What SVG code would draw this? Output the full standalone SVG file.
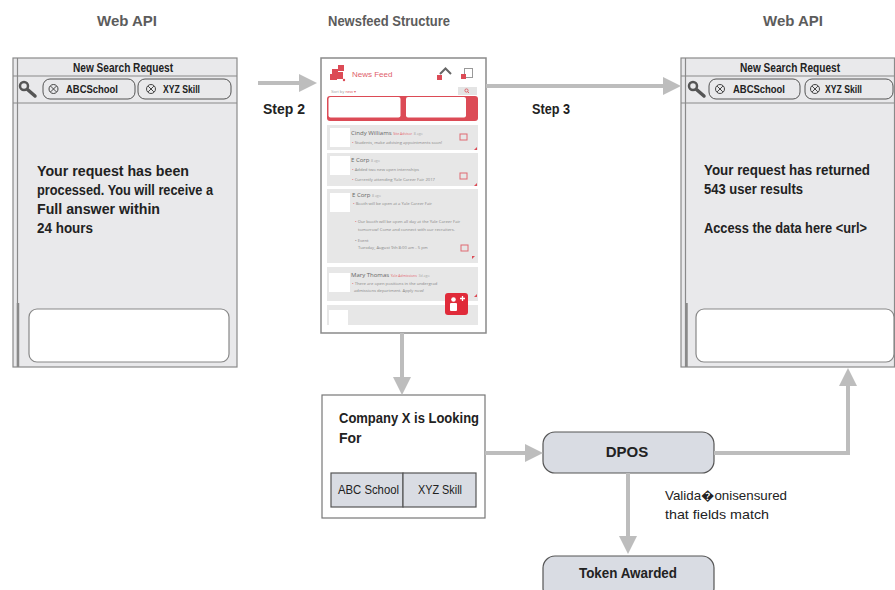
<svg xmlns="http://www.w3.org/2000/svg" width="895" height="590" viewBox="0 0 895 590">
<defs>
<marker id="ah" viewBox="0 0 18 18" refX="0" refY="9" markerWidth="18" markerHeight="18" markerUnits="userSpaceOnUse" orient="auto">
<path d="M0,0 L18,9 L0,18 z" fill="#bdbdbd"/>
</marker>
<style>
text{font-family:"Liberation Sans",Arial,sans-serif}
.title{font-size:14px;font-weight:bold;fill:#5c5c5c}
.panel{fill:#e9e9eb;stroke:#8a8a8a;stroke-width:1.2}
.sep{stroke:#8a8a8a;stroke-width:1.2}
.chip{fill:#e9e9eb;stroke:#555;stroke-width:1}
.chipt{font-size:11px;font-weight:bold;fill:#222}
.hdr{font-size:12px;font-weight:bold;fill:#222}
.body{font-size:14px;font-weight:bold;fill:#222}
.tbox{fill:#fff;stroke:#888;stroke-width:1.2}
.conn{fill:none;stroke:#bdbdbd;stroke-width:4;marker-end:url(#ah)}
.step{font-size:14px;font-weight:bold;fill:#222}
.node{fill:#d9dce3;stroke:#555;stroke-width:1.2}
.nodet{font-weight:bold;fill:#222;text-anchor:middle}
.card{fill:#e7e7e7}
.av{fill:#fff}
.nm{font-family:"Open Sans",sans-serif;font-size:6px;fill:#666}
.tag{font-family:"Open Sans",sans-serif;font-size:3.5px;fill:#e46a72}
.ago{font-family:"Open Sans",sans-serif;font-size:3.5px;fill:#aaa}
.ln{font-family:"Open Sans",sans-serif;font-size:4.2px;fill:#888}
.rd{fill:#dc4b56}
.cal{fill:none;stroke:#e06a72;stroke-width:1}
</style>
</defs>

<g id="titles">
<text class="title" x="97" y="26" textLength="60" lengthAdjust="spacingAndGlyphs">Web API</text>
<text class="title" x="328" y="26" textLength="122" lengthAdjust="spacingAndGlyphs">Newsfeed Structure</text>
<text class="title" x="763" y="26" textLength="60" lengthAdjust="spacingAndGlyphs">Web API</text>
</g>

<g id="web-api-left">
<rect class="panel" x="13" y="58" width="224" height="309"/>
<line class="sep" x1="17.5" y1="58" x2="17.5" y2="367"/>
<line x1="18" y1="303" x2="18" y2="367" stroke="#8a8a8a" stroke-width="2.5"/>
<line class="sep" x1="13" y1="76" x2="237" y2="76"/>
<line class="sep" x1="13" y1="103" x2="237" y2="103"/>
<text class="hdr" x="73" y="72" textLength="100" lengthAdjust="spacingAndGlyphs">New Search Request</text>
<circle cx="24" cy="86" r="4" fill="none" stroke="#555" stroke-width="2.5"/>
<line x1="27.5" y1="89.5" x2="35" y2="96" stroke="#555" stroke-width="3.5" stroke-linecap="round"/>
<rect class="chip" x="43" y="79" width="92" height="20" rx="7"/>
<rect class="chip" x="138" y="79" width="93" height="20" rx="7"/>
<circle cx="53.5" cy="89" r="4.5" fill="none" stroke="#333" stroke-width="0.9"/>
<path d="M50.6,86.1 L56.4,91.9 M56.4,86.1 L50.6,91.9" stroke="#333" stroke-width="0.9"/>
<circle cx="151" cy="89" r="4.5" fill="none" stroke="#333" stroke-width="0.9"/>
<path d="M148.1,86.1 L153.9,91.9 M153.9,86.1 L148.1,91.9" stroke="#333" stroke-width="0.9"/>
<text class="chipt" x="66" y="93" textLength="52" lengthAdjust="spacingAndGlyphs">ABCSchool</text>
<text class="chipt" x="163" y="93" textLength="37" lengthAdjust="spacingAndGlyphs">XYZ Skill</text>
<text class="body" x="37" y="176" textLength="152" lengthAdjust="spacingAndGlyphs">Your request has been</text>
<text class="body" x="37" y="195" textLength="176" lengthAdjust="spacingAndGlyphs">processed. You will receive a</text>
<text class="body" x="37" y="214" textLength="123" lengthAdjust="spacingAndGlyphs">Full answer within</text>
<text class="body" x="37" y="233" textLength="56" lengthAdjust="spacingAndGlyphs">24 hours</text>
<rect class="tbox" x="29" y="309" width="200" height="53" rx="8"/>
</g>

<g id="newsfeed">
<rect x="321" y="58" width="165" height="275" fill="#fff" stroke="#8a8a8a" stroke-width="1.5"/>
<rect class="rd" x="332" y="69" width="6" height="6"/>
<rect class="rd" x="338" y="65" width="6" height="6"/>
<rect class="rd" x="330" y="74" width="7" height="6"/>
<rect class="rd" x="337" y="72" width="6" height="7"/>
<circle class="rd" cx="344" cy="80" r="1.2"/>
<text x="352" y="77" font-family="Open Sans, sans-serif" font-size="8" fill="#e0606a">News Feed</text>
<path d="M440,74 L445.5,68.5 L451,74" fill="none" stroke="#666" stroke-width="2"/>
<rect class="rd" x="437" y="75" width="5" height="5"/>
<rect x="464.5" y="68.5" width="8" height="9" fill="none" stroke="#999" stroke-width="1"/>
<rect class="rd" x="461" y="74" width="5" height="5"/>
<text x="331" y="92.5" font-family="Open Sans, sans-serif" font-size="4.2" fill="#aaa">Sort by <tspan fill="#e06a72">new ▾</tspan></text>
<rect x="458" y="87" width="19" height="8" fill="#e4e4e4"/>
<circle cx="466.5" cy="90.5" r="1.6" fill="none" stroke="#dc4b56" stroke-width="0.8"/>
<line x1="467.7" y1="91.7" x2="469" y2="93" stroke="#dc4b56" stroke-width="0.8"/>
<rect class="rd" x="327" y="96" width="151" height="25" rx="3"/>
<rect x="328.5" y="97" width="72" height="20.5" rx="2" fill="#fff"/>
<rect x="406" y="97" width="60" height="20.5" rx="2" fill="#fff"/>

<rect class="card" x="327" y="125" width="151" height="25"/>
<rect class="av" x="330" y="128" width="20" height="19"/>
<text class="nm" x="351" y="135">Cindy Williams <tspan class="tag">Site Advisor</tspan> <tspan class="ago">8 ago</tspan></text>
<text class="ln" x="352" y="144"><tspan fill="#e06a72">•</tspan> Students, make advising appointments soon!</text>
<rect class="cal" x="460" y="134" width="7" height="6"/>
<polygon class="rd" points="477,147 477,150 474,150"/>

<rect class="card" x="327" y="153" width="151" height="33"/>
<rect class="av" x="330" y="156" width="20" height="19"/>
<text class="nm" x="351" y="162">E Corp <tspan class="ago">8 ago</tspan></text>
<text class="ln" x="352" y="171"><tspan fill="#e06a72">•</tspan> Added two new open internships</text>
<text class="ln" x="352" y="181"><tspan fill="#e06a72">•</tspan> Currently attending Yale Career Fair 2017</text>
<rect class="cal" x="460" y="173" width="7" height="6"/>
<polygon class="rd" points="477,183 477,186 474,186"/>

<rect class="card" x="327" y="189" width="151" height="74"/>
<rect class="av" x="330" y="193" width="20" height="19"/>
<text class="nm" x="352" y="197">E Corp <tspan class="ago">8 ago</tspan></text>
<text class="ln" x="353" y="205"><tspan fill="#e06a72">•</tspan> Booth will be open at a Yale Career Fair</text>
<text class="ln" x="355" y="223"><tspan fill="#e06a72">•</tspan> Our booth will be open all day at the Yale Career Fair</text>
<text class="ln" x="358" y="231">tomorrow! Come and connect with our recruiters.</text>
<text class="ln" x="355" y="242" fill="#e06a72">• Event</text>
<text class="ln" x="358" y="249">Tuesday, August 9th     8:00 am - 5 pm</text>
<rect class="cal" x="461" y="245" width="7" height="6"/>
<polygon class="rd" points="472,256 475,256 472,259"/>

<rect class="card" x="327" y="267" width="151" height="34"/>
<rect class="av" x="329" y="273" width="21" height="19"/>
<text class="nm" x="351" y="277">Mary Thomas <tspan class="tag">Yale Admissions</tspan> <tspan class="ago">3d ago</tspan></text>
<text class="ln" x="352" y="285"><tspan fill="#e06a72">•</tspan> There are open positions in the undergrad</text>
<text class="ln" x="354" y="292">admissions department. Apply now!</text>
<polygon class="rd" points="477,294 477,297 474,297"/>

<rect class="card" x="327" y="305" width="151" height="20"/>
<rect class="av" x="329" y="310" width="19" height="15"/>

<rect x="445" y="293" width="23" height="22" rx="3" fill="#e02b3a"/>
<circle cx="453.5" cy="299.5" r="2.3" fill="#fff"/>
<rect x="450" y="303" width="7" height="8" rx="1" fill="#fff"/>
<path d="M462.5,296 V301 M460,298.5 H465" stroke="#fff" stroke-width="1.3"/>
</g>

<g id="web-api-right">
<rect class="panel" x="681" y="58" width="213.5" height="309"/>
<line class="sep" x1="685.5" y1="58" x2="685.5" y2="367"/>
<line x1="686.5" y1="303" x2="686.5" y2="367" stroke="#8a8a8a" stroke-width="2.5"/>
<line class="sep" x1="681" y1="76" x2="895" y2="76"/>
<line class="sep" x1="681" y1="103" x2="895" y2="103"/>
<text class="hdr" x="740" y="72" textLength="100" lengthAdjust="spacingAndGlyphs">New Search Request</text>
<circle cx="693" cy="86" r="4" fill="none" stroke="#555" stroke-width="2.5"/>
<line x1="696.5" y1="89.5" x2="704" y2="96" stroke="#555" stroke-width="3.5" stroke-linecap="round"/>
<rect class="chip" x="709" y="79" width="91" height="20" rx="7"/>
<rect class="chip" x="805" y="79" width="88" height="20" rx="7"/>
<circle cx="720" cy="89" r="4.5" fill="none" stroke="#333" stroke-width="0.9"/>
<path d="M717.1,86.1 L722.9,91.9 M722.9,86.1 L717.1,91.9" stroke="#333" stroke-width="0.9"/>
<circle cx="815" cy="89" r="4.5" fill="none" stroke="#333" stroke-width="0.9"/>
<path d="M812.1,86.1 L817.9,91.9 M817.9,86.1 L812.1,91.9" stroke="#333" stroke-width="0.9"/>
<text class="chipt" x="733" y="93" textLength="52" lengthAdjust="spacingAndGlyphs">ABCSchool</text>
<text class="chipt" x="825" y="93" textLength="37" lengthAdjust="spacingAndGlyphs">XYZ Skill</text>
<text class="body" x="704" y="175" textLength="166" lengthAdjust="spacingAndGlyphs">Your request has returned</text>
<text class="body" x="704" y="194" textLength="99" lengthAdjust="spacingAndGlyphs">543 user results</text>
<text class="body" x="704" y="233" textLength="163" lengthAdjust="spacingAndGlyphs">Access the data here &lt;url&gt;</text>
<rect class="tbox" x="696" y="309" width="198" height="53" rx="8"/>
</g>

<g id="company-x">
<rect x="322" y="395" width="163" height="123" fill="#fff" stroke="#777" stroke-width="1.2"/>
<text class="body" x="339" y="423" textLength="140" lengthAdjust="spacingAndGlyphs">Company X is Looking</text>
<text class="body" x="339" y="443">For</text>
<rect class="node" x="331" y="473" width="72" height="34" rx="0"/>
<rect class="node" x="403" y="473" width="73" height="34" rx="0"/>
<text x="338" y="494" font-size="12" fill="#222" textLength="61" lengthAdjust="spacingAndGlyphs">ABC School</text>
<text x="418" y="494" font-size="12" fill="#222" textLength="44" lengthAdjust="spacingAndGlyphs">XYZ Skill</text>
</g>

<g id="dpos">
<rect class="node" x="543" y="432" width="171" height="41" rx="12"/>
<text class="nodet" x="627" y="457" font-size="15">DPOS</text>
</g>

<g id="token-awarded">
<rect class="node" x="543" y="556" width="171" height="44" rx="12"/>
<text class="nodet" x="628" y="578" font-size="14" textLength="98" lengthAdjust="spacingAndGlyphs">Token Awarded</text>
</g>

<g id="connectors">
<line class="conn" x1="258" y1="83" x2="299" y2="83"/>
<line class="conn" x1="486" y1="86" x2="663" y2="86"/>
<line class="conn" x1="402" y1="333" x2="402" y2="377"/>
<line class="conn" x1="485" y1="453" x2="525" y2="453"/>
<path class="conn" d="M714,453 H848 V386"/>
<line class="conn" x1="628" y1="473" x2="628" y2="536"/>
</g>

<g id="labels">
<text class="step" x="263" y="114">Step 2</text>
<text class="step" x="532" y="114" textLength="38" lengthAdjust="spacingAndGlyphs">Step 3</text>
<text x="665" y="500" font-size="13" fill="#222" textLength="122" lengthAdjust="spacingAndGlyphs">Valida&#xFFFD;onisensured</text>
<text x="665" y="519" font-size="13" fill="#222" textLength="104" lengthAdjust="spacingAndGlyphs">that fields match</text>
</g>
</svg>
